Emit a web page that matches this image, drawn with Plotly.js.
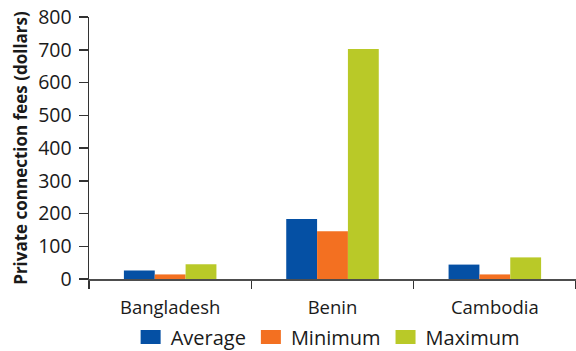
<!DOCTYPE html>
<html>
<head>
<meta charset="utf-8">
<script src="https://cdn.plot.ly/plotly-3.0.1.min.js"></script>
<style>
  html, body { margin: 0; padding: 0; background: #fff; }
  #chart { width: 576px; height: 351px; }
</style>
</head>
<body>
<div id="chart"></div>
<script>
// Private connection fees by country (US dollars)
const countries = ["Bangladesh", "Benin", "Cambodia"];
const seriesNames = ["Average", "Minimum", "Maximum"];
const averageFees = [26, 183, 44];
const minimumFees = [14, 146, 14];
const maximumFees = [45, 702, 66];
const seriesColors = ["#0550a4", "#f37021", "#b9c928"];
const yTicks = [0, 100, 200, 300, 400, 500, 600, 700, 800];

const fontFamily = "'Open Sans', 'Noto Sans', sans-serif";
const seriesValues = [averageFees, minimumFees, maximumFees];

const traces = seriesNames.map((name, i) => ({
  type: "bar",
  name: name,
  x: countries,
  y: seriesValues[i],
  marker: { color: seriesColors[i], line: { width: 0 } },
  hoverinfo: "x+y+name"
}));

const layout = {
  width: 576,
  height: 351,
  margin: { l: 89, r: 0, t: 17, b: 72, pad: 0, autoexpand: false },
  paper_bgcolor: "#ffffff",
  plot_bgcolor: "#ffffff",
  font: { family: fontFamily, color: "#1a1a1a", size: 18 },
  barmode: "group",
  bargap: 0.43,
  bargroupgap: 0,
  showlegend: true,
  legend: {
    orientation: "h",
    xref: "paper",
    x: 0.49,
    xanchor: "center",
    yref: "container",
    y: 0.04,
    yanchor: "middle",
    font: { family: fontFamily, size: 20, color: "#1a1a1a" },
    itemwidth: 30,
    tracegroupgap: 0,
    bgcolor: "rgba(0,0,0,0)"
  },
  xaxis: {
    type: "category",
    showline: true,
    linecolor: "#4d4d4d",
    linewidth: 2,
    showgrid: false,
    zeroline: false,
    ticks: "outside",
    tickson: "boundaries",
    ticklen: 8,
    tickwidth: 1.5,
    tickcolor: "#333333",
    ticklabelstandoff: 11,
    tickfont: { family: fontFamily, size: 18.5, color: "#1a1a1a" },
    fixedrange: true
  },
  yaxis: {
    range: [0, 800],
    tickvals: yTicks,
    ticktext: yTicks.map(String),
    showline: true,
    linecolor: "#333333",
    linewidth: 1.5,
    showgrid: false,
    zeroline: false,
    ticks: "outside",
    ticklen: 9,
    tickwidth: 1.5,
    tickcolor: "#333333",
    ticklabelstandoff: 3,
    tickfont: { family: fontFamily, size: 19.5, color: "#1a1a1a" },
    title: {
      text: "<b>Private connection fees (dollars)</b>",
      font: { family: fontFamily, size: 17, color: "#1a1a1a" },
      standoff: 6
    },
    fixedrange: true
  }
};

Plotly.newPlot("chart", traces, layout, { displayModeBar: false, staticPlot: true })
  .then(gd => {
    // wider, flatter legend swatches (20 x 14)
    gd.querySelectorAll(".legend .legendpoints path").forEach(p => {
      p.setAttribute("d", "M10,7H-10V-7H10Z");
    });
  });
</script>
</body>
</html>
